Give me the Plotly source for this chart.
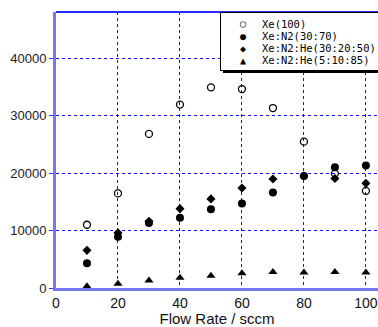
import plotly.graph_objects as go

flow = [10, 20, 30, 40, 50, 60, 70, 80, 90, 100]
xe100 = [11000, 16450, 26800, 31900, 34900, 34600, 31300, 25450, 19900, 16900]
xe_n2 = [4300, 8900, 11300, 12200, 13700, 14700, 16600, 19500, 21000, 21300]
xe_n2_he_30 = [6550, 9600, 11600, 13800, 15500, 17400, 18950, 19500, 19050, 18200]
xe_n2_he_5 = [300, 750, 1300, 1800, 2150, 2550, 2800, 2700, 2800, 2700]
names = ["Xe(100)", "Xe:N2(30:70)", "Xe:N2:He(30:20:50)", "Xe:N2:He(5:10:85)"]
legend_glyphs = ["○", "●", "◆", "▲"]

series = [xe100, xe_n2, xe_n2_he_30, xe_n2_he_5]
styles = [
    dict(symbol="circle-open", size=7, color="black", line=dict(width=1.3, color="black")),
    dict(symbol="circle", size=8, color="black"),
    dict(symbol="diamond", size=7, color="black"),
    dict(symbol="triangle-up", size=8, color="black"),
]

fig = go.Figure()
for name, ys, st in zip(names, series, styles):
    fig.add_trace(go.Scatter(x=flow, y=ys, mode="markers", name=name,
                             marker=st, showlegend=False, hoverinfo="skip"))

W, H = 378, 327
L, T, B, R = 56, 12, 39, 0
pw, ph = W - L - R, H - T - B

def px(x):
    return (x - L) / pw

def py(y):
    return (H - B - y) / ph

shapes = [
    # top border
    dict(type="line", xref="paper", yref="paper", x0=0, x1=1, y0=1, y1=1,
         line=dict(color="#2a2aff", width=2)),
    # legend shadow
    dict(type="rect", xref="paper", yref="paper", x0=px(223), x1=1.05, y0=py(73), y1=py(15),
         fillcolor="black", line=dict(width=0), layer="above"),
    # legend box
    dict(type="rect", xref="paper", yref="paper", x0=px(220.5), x1=1.05, y0=py(70.5), y1=py(12.5),
         fillcolor="white", line=dict(color="black", width=1), layer="above"),
]

annotations = []
line_y = [24, 36, 48, 60]
for g, n, yy in zip(legend_glyphs, names, line_y):
    annotations.append(dict(xref="paper", yref="paper", x=px(243), y=py(yy), text=g,
                            showarrow=False, xanchor="center", yanchor="middle",
                            font=dict(family="DejaVu Sans Mono", size=10, color="black")))
    annotations.append(dict(xref="paper", yref="paper", x=px(260), y=py(yy), text=n,
                            showarrow=False, xanchor="left", yanchor="middle",
                            font=dict(family="DejaVu Sans Mono", size=10.5, color="black")))

fig.update_layout(
    width=W, height=H,
    margin=dict(l=L, r=R, t=T, b=B),
    paper_bgcolor="white", plot_bgcolor="white",
    shapes=shapes, annotations=annotations,
    hovermode=False,
    xaxis=dict(range=[0, 103.9], tickvals=[0, 20, 40, 60, 80, 100],
               showgrid=True, gridcolor="#1010ff", griddash="dot", gridwidth=1,
               showline=True, linecolor="#7676ee", linewidth=3,
               zeroline=False, ticks="",
               tickfont=dict(family="Liberation Sans", size=14, color="#111"),
               title=dict(text="Flow Rate / sccm", standoff=2,
                          font=dict(family="Liberation Sans", size=15, color="#111"))),
    yaxis=dict(range=[0, 48000], tickvals=[0, 10000, 20000, 30000, 40000],
               ticktext=["0", "10000", "20000", "30000", "40000"],
               showgrid=True, gridcolor="#1010ff", griddash="dot", gridwidth=1,
               showline=True, linecolor="#7676ee", linewidth=3,
               zeroline=False, ticks="outside", ticklen=4, tickcolor="#3030ff",
               tickfont=dict(family="Liberation Sans", size=13, color="#222")),
)

fig.write_html("out.html", config={"displayModeBar": False},
               post_script="document.body.style.margin='0';document.body.style.overflow='hidden';")
